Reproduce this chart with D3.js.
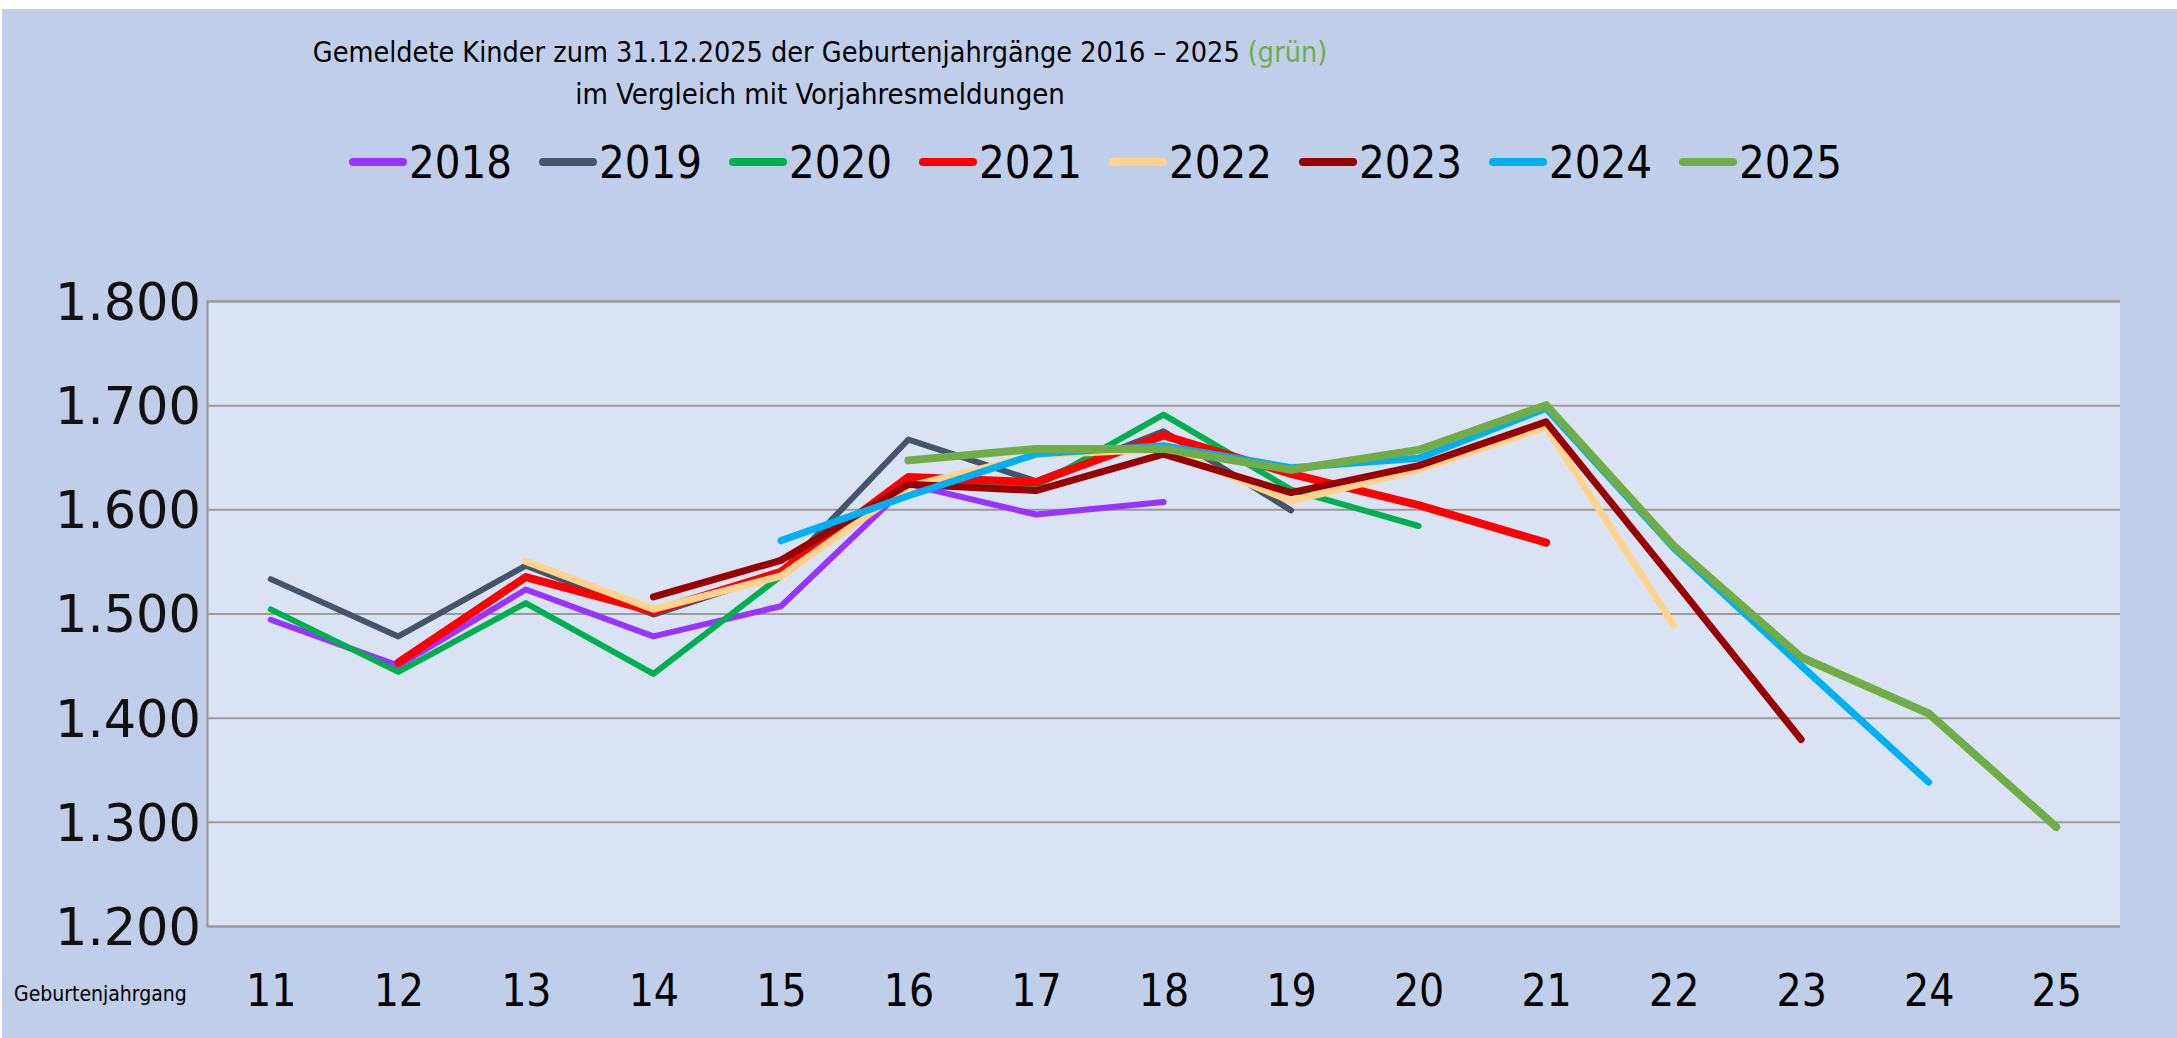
<!DOCTYPE html>
<html>
<head>
<meta charset="utf-8">
<script src="https://cdn.jsdelivr.net/npm/d3@7"></script>
<style>
  html, body { margin: 0; padding: 0; background: #ffffff; }
  .narrow { font-family: "Liberation Sans Narrow", "DejaVu Sans Condensed", "Arial Narrow", sans-serif; }
</style>
</head>
<body>
<div class="canvas"></div>
<script>
// Geburtenjahrgang (x axis)
const cohorts = ['11','12','13','14','15','16','17','18','19','20','21','22','23','24','25'];
const yTicks = [1200, 1300, 1400, 1500, 1600, 1700, 1800];

// reported children per cohort, one array per report year (null = not reported)
const y2018 = [1494, 1450, 1523, 1478, 1507, 1624, 1595, 1607, null, null, null, null, null, null, null];
const y2019 = [1533, 1478, 1546, 1499, 1539, 1667, 1627, 1675, 1599, null, null, null, null, null, null];
const y2020 = [1504, 1444, 1510, 1442, 1536, 1629, 1622, 1691, 1619, 1584, null, null, null, null, null];
const y2021 = [null, 1453, 1535, 1502, 1540, 1631, 1626, 1671, 1634, 1604, 1568, null, null, null, null];
const y2022 = [null, null, 1550, 1504, 1536, 1622, 1652, 1658, 1608, 1638, 1679, 1489, null, null, null];
const y2023 = [null, null, null, 1516, 1551, 1624, 1618, 1653, 1616, 1642, 1684, 1532, 1379, null, null];
const y2024 = [null, null, null, null, 1570, 1613, 1653, 1661, 1640, 1649, 1697, 1563, 1450, 1338, null];
const y2025 = [null, null, null, null, null, 1647, 1658, 1658, 1638, 1657, 1700, 1565, 1458, 1404, 1295];

const seriesNames = ['2018','2019','2020','2021','2022','2023','2024','2025'];
const seriesValues = [y2018, y2019, y2020, y2021, y2022, y2023, y2024, y2025];
const seriesColors = ['#9933FF','#44546A','#00B050','#FF0000','#FFD28E','#990000','#00B0F0','#70AD47'];
const seriesWidths = [6, 6, 6, 8, 7, 7, 7, 8];

const W = 2177, H = 1038;
const svg = d3.select('.canvas')
    .append('svg')
    .attr('width', W)
    .attr('height', H)
    .style('display', 'block');

// outer chart area
svg.append('rect')
    .attr('x', 2).attr('y', 9)
    .attr('width', W - 2).attr('height', H - 9)
    .attr('fill', '#BFCFEA');

const margin = {top: 301, right: 57, bottom: 112, left: 207};
const graphWidth = W - margin.left - margin.right;
const graphHeight = H - margin.top - margin.bottom;

const graph = svg.append('g')
    .attr('transform', `translate(${margin.left},${margin.top})`);

graph.append('rect')
    .attr('width', graphWidth)
    .attr('height', graphHeight)
    .attr('fill', '#DAE3F3');

const x = d3.scalePoint()
    .domain(cohorts)
    .range([0, graphWidth])
    .padding(0.5);

const y = d3.scaleLinear()
    .domain([1200, 1800])
    .range([graphHeight, 0]);

const de = d3.formatLocale({decimal: ',', thousands: '.', grouping: [3], currency: ['', '€']});

// y axis + gridlines
const yAxisGroup = graph.append('g')
    .call(d3.axisLeft(y).tickValues(yTicks).tickSize(-graphWidth).tickFormat(de.format(',')));
yAxisGroup.select('.domain').attr('stroke', '#969696').attr('stroke-width', 2);
yAxisGroup.selectAll('.tick line').attr('stroke', '#9A9A9A').attr('stroke-width', 2);
yAxisGroup.selectAll('.tick text')
    .attr('x', -6)
    .attr('dy', '0.36em')
    .attr('fill', '#111')
    .style('font-family', '"DejaVu Sans", Verdana, sans-serif')
    .style('font-size', '51px');

// x axis labels
const xAxisGroup = graph.append('g')
    .attr('transform', `translate(0, ${graphHeight})`)
    .call(d3.axisBottom(x).tickSize(0));
xAxisGroup.select('.domain').remove();
xAxisGroup.selectAll('.tick text')
    .attr('y', 80)
    .attr('dy', 0)
    .attr('fill', '#000')
    .attr('class', 'narrow')
    .style('font-size', '44px');

svg.append('text')
    .attr('class', 'narrow')
    .attr('x', 14).attr('y', 1001)
    .style('font-size', '21px')
    .text('Geburtenjahrgang');

// lines
const line = d3.line()
    .defined(d => d.v !== null)
    .x(d => x(d.c))
    .y(d => y(d.v));

seriesValues.forEach((vals, i) => {
    graph.append('path')
        .datum(vals.map((v, j) => ({c: cohorts[j], v: v})))
        .attr('fill', 'none')
        .attr('stroke', seriesColors[i])
        .attr('stroke-width', seriesWidths[i])
        .attr('stroke-linecap', 'round')
        .attr('stroke-linejoin', 'round')
        .attr('d', line);
});

// title
const title = svg.append('text')
    .attr('class', 'narrow')
    .attr('x', 820).attr('y', 62)
    .attr('text-anchor', 'middle')
    .style('font-size', '28.5px');
title.append('tspan').text('Gemeldete Kinder zum 31.12.2025 der Geburtenjahrgänge 2016 – 2025 ');
title.append('tspan').attr('fill', '#70AD47').text('(grün)');

svg.append('text')
    .attr('class', 'narrow')
    .attr('x', 820).attr('y', 104)
    .attr('text-anchor', 'middle')
    .style('font-size', '29px')
    .text('im Vergleich mit Vorjahresmeldungen');

// legend
const legend = svg.append('g').attr('transform', 'translate(350,162)');
const items = legend.selectAll('g')
    .data(seriesNames)
    .enter()
    .append('g')
    .attr('transform', (d, i) => `translate(${i * 190},0)`);
items.append('line')
    .attr('x1', 3).attr('x2', 53)
    .attr('stroke', (d, i) => seriesColors[i])
    .attr('stroke-width', 8)
    .attr('stroke-linecap', 'round');
items.append('text')
    .attr('class', 'narrow')
    .attr('x', 59).attr('y', 16)
    .style('font-size', '45px')
    .text(d => d);
</script>
</body>
</html>
